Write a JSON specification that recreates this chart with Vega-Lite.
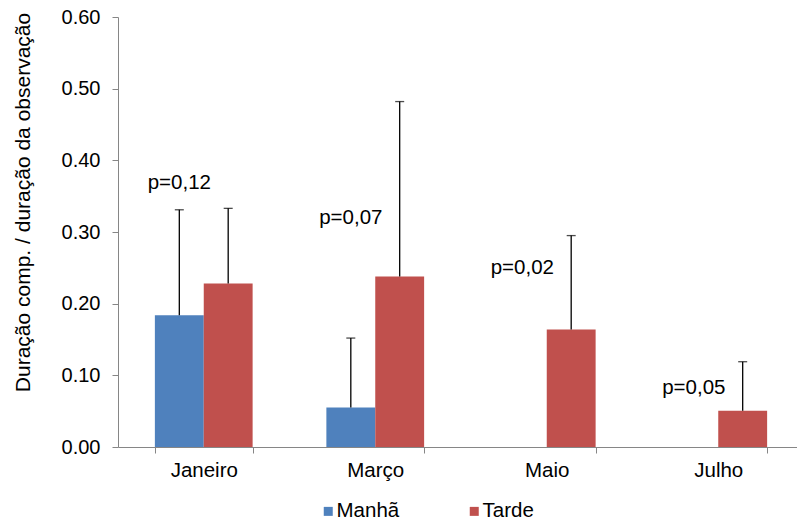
{
  "$schema": "https://vega.github.io/schema/vega-lite/v6.json",
  "autosize": {"type": "none"},
  "width": 679,
  "height": 430,
  "padding": {"left": 118, "top": 17, "right": 0, "bottom": 73},
  "background": "white",
  "config": {
    "view": {"stroke": null},
    "font": "Liberation Sans",
    "axis": {"domainColor": "#868686", "tickColor": "#868686", "labelColor": "#000", "titleColor": "#000", "labelFont": "Liberation Sans", "titleFont": "Liberation Sans", "grid": false},
    "legend": {"labelFont": "Liberation Sans"}
  },
  "datasets": {
    "bars": [
      {"mes": "Janeiro", "turno": "Manhã", "valor": 0.184, "erro": 0.331},
      {"mes": "Janeiro", "turno": "Tarde", "valor": 0.228, "erro": 0.333},
      {"mes": "Março", "turno": "Manhã", "valor": 0.055, "erro": 0.152},
      {"mes": "Março", "turno": "Tarde", "valor": 0.238, "erro": 0.482},
      {"mes": "Maio", "turno": "Tarde", "valor": 0.164, "erro": 0.295},
      {"mes": "Julho", "turno": "Tarde", "valor": 0.0505, "erro": 0.119}
    ],
    "labels": [
      {"mes": "Janeiro", "turno": "Manhã", "y": 0.368, "texto": "p=0,12"},
      {"mes": "Março", "turno": "Manhã", "y": 0.320, "texto": "p=0,07"},
      {"mes": "Maio", "turno": "Manhã", "y": 0.250, "texto": "p=0,02"},
      {"mes": "Julho", "turno": "Manhã", "y": 0.083, "texto": "p=0,05"}
    ]
  },
  "encoding": {
    "x": {
      "field": "mes", "type": "nominal", "sort": ["Janeiro", "Março", "Maio", "Julho"],
      "scale": {"domain": ["Janeiro", "Março", "Maio", "Julho"], "range": [0, 686], "paddingInner": 0.43, "paddingOuter": 0.215},
      "axis": {"title": null, "labelAngle": 0, "labelFontSize": 20.5, "labelPadding": 7, "tickSize": 6, "tickBand": "extent", "domainWidth": 1}
    },
    "xOffset": {"field": "turno", "type": "nominal", "scale": {"domain": ["Manhã", "Tarde"], "paddingInner": 0, "paddingOuter": 0}}
  },
  "layer": [
    {
      "data": {"name": "bars"},
      "mark": {"type": "bar", "stroke": null},
      "encoding": {
        "y": {
          "field": "valor", "type": "quantitative",
          "scale": {"domain": [0, 0.6]},
          "axis": {"title": "Duração comp. / duração da observação", "values": [0, 0.1, 0.2, 0.3, 0.4, 0.5, 0.6], "format": ".2f", "labelFontSize": 20, "titleFontSize": 21, "titleFontWeight": "normal", "tickSize": 6, "labelPadding": 12, "titlePadding": 28, "titleY": 185}
        },
        "color": {
          "field": "turno", "type": "nominal",
          "scale": {"domain": ["Manhã", "Tarde"], "range": ["#4F81BD", "#C0504D"]},
          "legend": {"title": null, "orient": "none", "direction": "horizontal", "legendX": 200, "legendY": 484, "symbolType": "square", "symbolSize": 81, "symbolStrokeWidth": 0, "labelFontSize": 20.5, "labelColor": "#000", "columnPadding": 64, "labelOffset": -2}
        }
      }
    },
    {
      "data": {"name": "bars"},
      "mark": {"type": "rule", "color": "#000", "strokeWidth": 1.3},
      "encoding": {
        "y": {"field": "valor", "type": "quantitative"},
        "y2": {"field": "erro"}
      }
    },
    {
      "data": {"name": "bars"},
      "mark": {"type": "tick", "orient": "horizontal", "color": "#000", "size": 9, "thickness": 1.3},
      "encoding": {
        "y": {"field": "erro", "type": "quantitative"}
      }
    },
    {
      "data": {"name": "labels"},
      "mark": {"type": "text", "fontSize": 20.5, "color": "#000", "baseline": "middle", "align": "center"},
      "encoding": {
        "y": {"field": "y", "type": "quantitative"},
        "text": {"field": "texto"}
      }
    }
  ]
}
